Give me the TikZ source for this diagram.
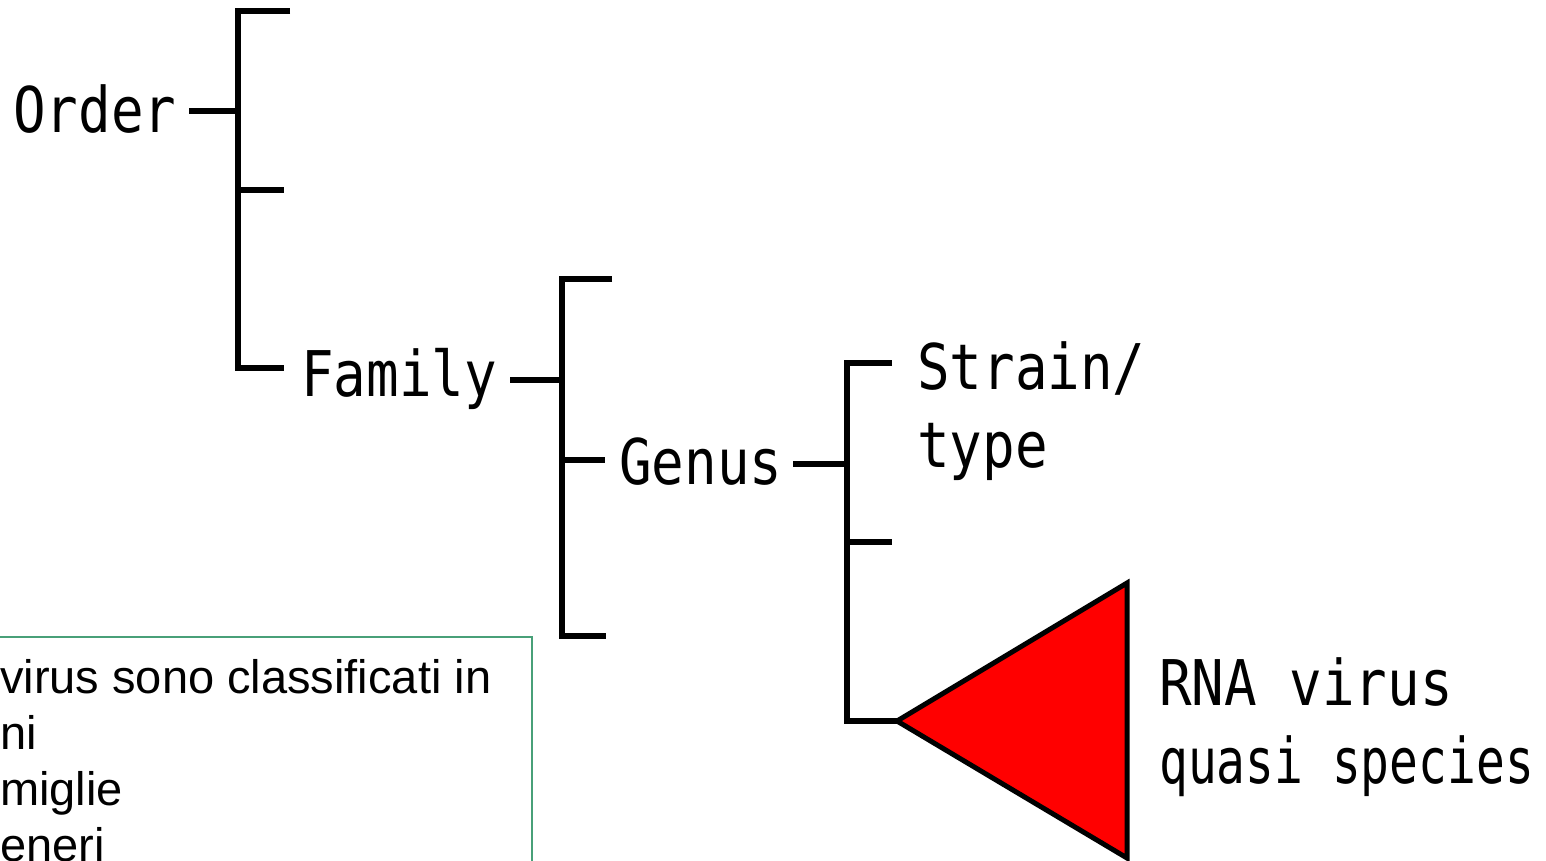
\documentclass[tikz,border=0pt]{standalone}
\usepackage{fontspec}
\setmainfont{Liberation Sans}
\newfontfamily\pixfont[FakeStretch=0.86]{DejaVu Sans Mono}
\definecolor{boxgreen}{RGB}{72,160,120}
\begin{document}
\begin{tikzpicture}[x=1pt,y=-1pt,
  br/.style={line width=5.5pt, line join=miter},
  lbl/.style={font=\pixfont\fontsize{63}{78}\selectfont, inner sep=0pt, anchor=base west, align=left},
  note/.style={font=\fontsize{47}{56}\selectfont, inner sep=0pt, anchor=base west, align=left}]
\useasboundingbox (0,0) rectangle (1546,861);
\clip (0,0) rectangle (1546,861);
% labels
\node[lbl] (order) at (13,133) {Order};
\node[lbl] (family) at (301,396) {Family};
\node[lbl] (genus) at (619,484) {Genus};
\node[lbl] (strain) at (917,467) {Strain/\\type};
\node[lbl] (rna) at (1159,783) {RNA virus\\{\addfontfeature{FakeStretch=0.76}quasi species}};
% order bracket
\coordinate (oj) at (238,111);
\coordinate (o1) at (238,11);
\coordinate (o2) at (238,190);
\coordinate (o3) at (238,368);
\coordinate (o1e) at (290,11);
\coordinate (o2e) at (284,190);
\coordinate (o3e) at (284,368);
\coordinate (oc) at (189,111);
\draw[br] (o1e) -- (o1) -- (o3) -- (o3e);
\draw[br] (o2) -- (o2e);
\draw[br] (oc) -- (oj);
% family bracket
\coordinate (fj) at (562,380);
\coordinate (f1) at (562,279);
\coordinate (f2) at (562,460);
\coordinate (f3) at (562,636);
\coordinate (f1e) at (612,279);
\coordinate (f2e) at (605,460);
\coordinate (f3e) at (606,636);
\coordinate (fc) at (510,380);
\draw[br] (f1e) -- (f1) -- (f3) -- (f3e);
\draw[br] (f2) -- (f2e);
\draw[br] (fc) -- (fj);
% genus bracket
\coordinate (gj) at (847,464);
\coordinate (g1) at (847,363);
\coordinate (g2) at (847,542);
\coordinate (g3) at (847,721);
\coordinate (g1e) at (892,363);
\coordinate (g2e) at (892,542);
\coordinate (gc) at (793,464);
\coordinate (tA) at (897,721);
\coordinate (tT) at (1127,583);
\coordinate (tB) at (1127,858);
\filldraw[fill=red, draw=black, line width=5pt, line join=miter] (tA) -- (tT) -- (tB) -- cycle;
\draw[br] (g1e) -- (g1) -- (g3) -- (tA);
\draw[br] (g2) -- (g2e);
\draw[br] (gc) -- (gj);
% note box
\draw[boxgreen, line width=2pt] (-10,637) rectangle (532,900);
\node[note] (txt) at (0,861) {virus sono classificati in\\ni\\miglie\\eneri};
\end{tikzpicture}
\end{document}
